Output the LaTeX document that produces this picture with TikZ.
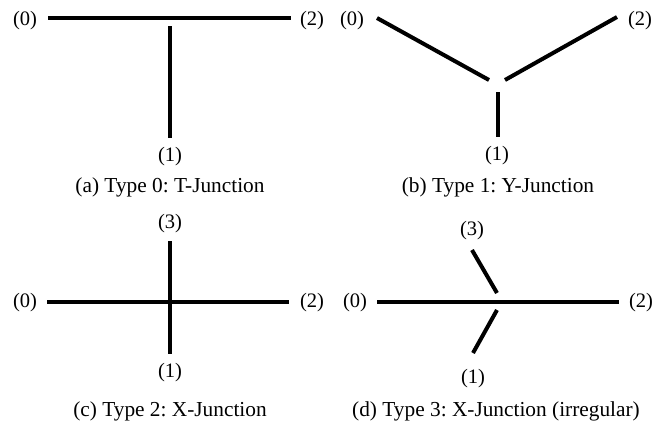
\documentclass[tikz,border=0pt]{standalone}
\usepackage{fontspec}
\setmainfont{Liberation Serif}
\frenchspacing

\begin{document}
\begin{tikzpicture}[x=0.75pt,y=0.75pt,yscale=-1,xscale=1]
\tikzset{arm/.style={line width=3pt},
  port/.style={inner sep=0.75pt,font=\fontsize{15.4}{18}\selectfont},
  caption/.style={inner sep=0.75pt,font=\fontsize{16}{19}\selectfont}}
\useasboundingbox (0,0) rectangle (669,426);
% (a) T-Junction
\coordinate (a0) at (48,17.5);
\coordinate (a2) at (291,17.5);
\coordinate (a1t) at (170,26);
\coordinate (a1) at (170,138);
\draw [arm] (a0) -- (a2);
\draw [arm] (a1t) -- (a1);
\node (la0) [port] at (25,21) {(0)};
\node (la2) [port] at (312,21) {(2)};
\node (la1) [port] at (170,157) {(1)};
\node (capa) [caption] at (170,187) {(a) Type 0: T-Junction};
% (b) Y-Junction
\coordinate (b0) at (377,18);
\coordinate (b0c) at (489,80);
\coordinate (b2c) at (505,80);
\coordinate (b2) at (617,17);
\coordinate (b1t) at (498,92);
\coordinate (b1) at (498,137);
\draw [arm] (b0) -- (b0c);
\draw [arm] (b2c) -- (b2);
\draw [arm] (b1t) -- (b1);
\node (lb0) [port] at (352,21) {(0)};
\node (lb2) [port] at (640,21) {(2)};
\node (lb1) [port] at (497,156) {(1)};
\node (capb) [caption] at (498,187) {(b) Type 1: Y-Junction};
% (c) X-Junction
\coordinate (c0) at (47,302);
\coordinate (c2) at (289,302);
\coordinate (c3) at (170,241);
\coordinate (c1) at (170,354);
\draw [arm] (c0) -- (c2);
\draw [arm] (c3) -- (c1);
\node (lc3) [port] at (170,224) {(3)};
\node (lc0) [port] at (25,303) {(0)};
\node (lc2) [port] at (312,303) {(2)};
\node (lc1) [port] at (170,373) {(1)};
\node (capc) [caption] at (170,411) {(c) Type 2: X-Junction};
% (d) irregular X-Junction
\coordinate (d0) at (377,302);
\coordinate (d2) at (619,302);
\coordinate (d3) at (472,250);
\coordinate (d3c) at (497,293);
\coordinate (d1c) at (497,310);
\coordinate (d1) at (473,353);
\draw [arm] (d0) -- (d2);
\draw [arm] (d3) -- (d3c);
\draw [arm] (d1c) -- (d1);
\node (ld3) [port] at (472,231) {(3)};
\node (ld0) [port] at (355,303) {(0)};
\node (ld2) [port] at (641,303) {(2)};
\node (ld1) [port] at (473,379) {(1)};
\node (capd) [caption] at (496,411) {(d) Type 3: X-Junction (irregular)};
\end{tikzpicture}
\end{document}
